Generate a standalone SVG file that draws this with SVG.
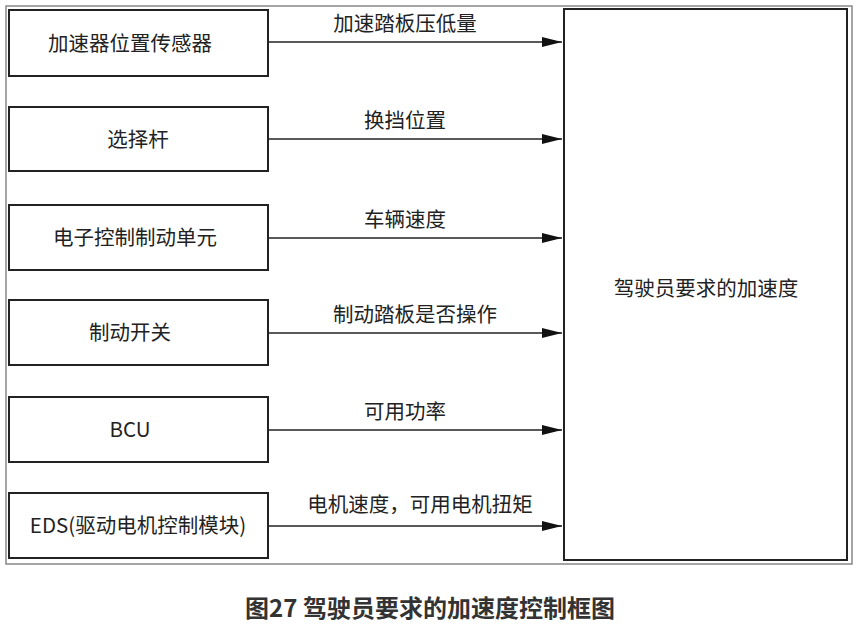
<svg xmlns="http://www.w3.org/2000/svg" width="859" height="638" viewBox="0 0 859 638">
<style>
.b{fill:#fff;stroke:#222;stroke-width:2}
.t{font-family:"Noto Sans CJK SC","Noto Sans",sans-serif;font-size:20.5px;fill:#222;text-anchor:middle}
.c{stroke:#222;stroke-width:1.6;fill:none;marker-end:url(#a)}
</style>
<defs><marker id="a" markerWidth="20" markerHeight="10" refX="20" refY="5" orient="auto" markerUnits="userSpaceOnUse"><path d="M0,0L20,5L0,10z" fill="#111"/></marker></defs>
<rect width="859" height="638" fill="#fff"/>
<rect x="6" y="6" width="846" height="558" fill="none" stroke="#888" stroke-width="1.5"/>
<g id="n1"><rect class="b" x="9" y="10" width="259" height="66"/><text class="t" x="130" y="51">加速器位置传感器</text></g>
<g id="n2"><rect class="b" x="9" y="107" width="259" height="64"/><text class="t" x="138" y="147">选择杆</text></g>
<g id="n3"><rect class="b" x="9" y="205" width="259" height="65"/><text class="t" x="135" y="245">电子控制制动单元</text></g>
<g id="n4"><rect class="b" x="9" y="300" width="259" height="65"/><text class="t" x="130" y="340">制动开关</text></g>
<g id="n5"><rect class="b" x="9" y="397" width="259" height="65"/><text class="t" x="130" y="437">BCU</text></g>
<g id="n6"><rect class="b" x="9" y="493" width="259" height="65"/><text class="t" x="138" y="533">EDS(驱动电机控制模块)</text></g>
<g id="r"><rect class="b" x="564" y="9" width="283" height="551"/><text class="t" x="706" y="296">驾驶员要求的加速度</text></g>
<g id="connectors">
<line class="c" x1="268" y1="42" x2="562" y2="42"/><text class="t" x="405" y="31">加速踏板压低量</text>
<line class="c" x1="268" y1="139" x2="562" y2="139"/><text class="t" x="405" y="128">换挡位置</text>
<line class="c" x1="268" y1="238" x2="562" y2="238"/><text class="t" x="405" y="227">车辆速度</text>
<line class="c" x1="268" y1="333" x2="562" y2="333"/><text class="t" x="415" y="322">制动踏板是否操作</text>
<line class="c" x1="268" y1="430" x2="562" y2="430"/><text class="t" x="405" y="419">可用功率</text>
<line class="c" x1="268" y1="526" x2="562" y2="526"/><text class="t" x="420" y="512">电机速度，可用电机扭矩</text>
</g>
<text x="430" y="617" style="font-family:'Noto Sans CJK SC',sans-serif;font-size:24px;font-weight:bold;fill:#333;text-anchor:middle">图27 驾驶员要求的加速度控制框图</text>
</svg>
